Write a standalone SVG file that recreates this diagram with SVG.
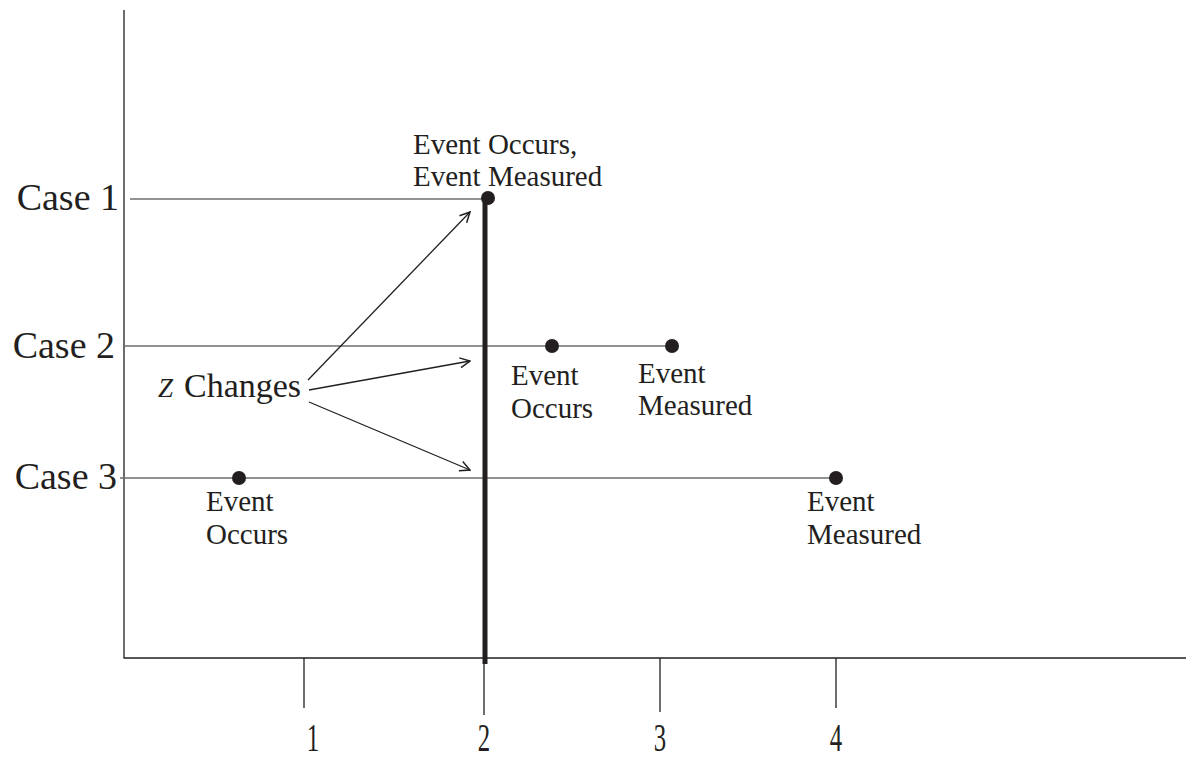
<svg xmlns="http://www.w3.org/2000/svg" width="1190" height="758" viewBox="0 0 1190 758">
<style>
text{font-family:"Liberation Serif","Times New Roman",serif;fill:#231f20}
.lbl{font-size:29px}
.case{font-size:38px;text-anchor:end}
.tick{font-size:40px;text-anchor:middle}
.axis{stroke:#231f20;stroke-width:1.3;fill:none}
.cl{stroke:#6d6e71;stroke-width:1.6;fill:none}
.arr{stroke:#231f20;stroke-width:1.3;fill:none;marker-end:url(#ah)}
.dot{fill:#231f20}
</style>
<defs>
<marker id="ah" viewBox="0 0 12 12" refX="11" refY="6" markerWidth="12" markerHeight="12" markerUnits="userSpaceOnUse" orient="auto">
<path d="M1,1 L11,6 L1,11" fill="none" stroke="#231f20" stroke-width="1.5"/>
</marker>
</defs>
<g id="axes">
<path class="axis" d="M124,10 V658 H1186"/>
<path class="axis" d="M304,658 V708 M484,658 V715 M660,658 V712 M836,658 V708"/>
<g transform="translate(313,751) scale(0.62,1)"><text class="tick">1</text></g>
<g transform="translate(484,751) scale(0.62,1)"><text class="tick">2</text></g>
<g transform="translate(660,751) scale(0.62,1)"><text class="tick">3</text></g>
<g transform="translate(836,751) scale(0.62,1)"><text class="tick">4</text></g>
</g>
<g id="case-lines">
<path class="cl" d="M130,199 H486"/>
<path class="cl" d="M124,346 H672"/>
<path class="cl" d="M120,478 H836"/>
</g>
<g id="z-line">
<path d="M485,200 V664" stroke="#231f20" stroke-width="5"/>
</g>
<g id="case1">
<text class="case" x="119" y="210">Case 1</text>
</g>
<g id="case2">
<text class="case" x="115" y="358">Case 2</text>
</g>
<g id="case3">
<text class="case" x="117" y="489">Case 3</text>
</g>
<g id="z-changes">
<text y="397" style="font-size:34px"><tspan x="158" font-style="italic" style="font-size:27px">Z</tspan><tspan x="184">Changes</tspan></text>
</g>
<g id="connectors">
<path class="arr" d="M308,380 L470,212"/>
<path class="arr" d="M309,390 L470,361"/>
<path class="arr" d="M309,402 L470,470"/>
</g>
<g id="e1">
<circle class="dot" cx="488" cy="198" r="7"/>
<text class="lbl" x="413" y="154">Event Occurs,</text>
<text class="lbl" x="413" y="186">Event Measured</text>
</g>
<g id="e2-occurs">
<circle class="dot" cx="552" cy="346" r="7"/>
<text class="lbl" x="511" y="385">Event</text>
<text class="lbl" x="511" y="418">Occurs</text>
</g>
<g id="e2-measured">
<circle class="dot" cx="672" cy="346" r="7"/>
<text class="lbl" x="638" y="383">Event</text>
<text class="lbl" x="638" y="415">Measured</text>
</g>
<g id="e3-occurs">
<circle class="dot" cx="239" cy="478" r="7"/>
<text class="lbl" x="206" y="511">Event</text>
<text class="lbl" x="206" y="544">Occurs</text>
</g>
<g id="e3-measured">
<circle class="dot" cx="836" cy="478" r="7"/>
<text class="lbl" x="807" y="511">Event</text>
<text class="lbl" x="807" y="544">Measured</text>
</g>
</svg>
